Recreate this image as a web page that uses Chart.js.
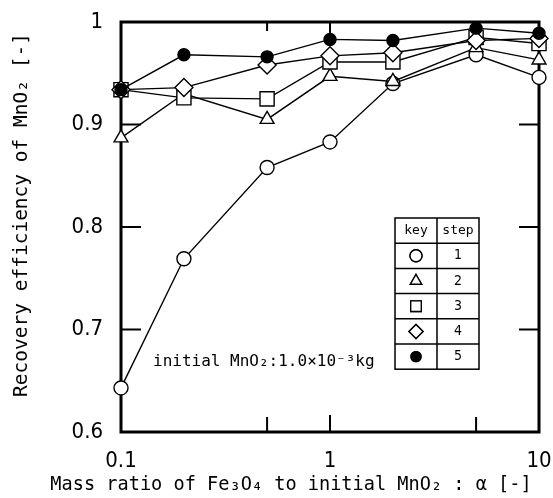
<!DOCTYPE html>
<html>
<head>
  <title>Recovery efficiency</title>
<script src="https://cdn.jsdelivr.net/npm/chart.js"></script>
<style>
  html, body { margin: 0; padding: 0; background: #fff; }
  #wrap { width: 553px; height: 498px; }
</style>
</head>
<body>
<div id="wrap">
  <canvas id="myChart" width="553" height="498"></canvas>
</div>
<script>
// mass ratio alpha
const alphas = [0.1, 0.2, 0.5, 1, 2, 5, 10];

// recovery efficiency per step
const step1 = [0.643, 0.769, 0.858, 0.883, 0.940, 0.968, 0.946];
const step2 = [0.887, 0.930, 0.905, 0.947, 0.942, 0.975, 0.963];
const step3 = [0.934, 0.926, 0.925, 0.961, 0.961, 0.985, 0.979];
const step4 = [0.934, 0.936, 0.958, 0.967, 0.970, 0.982, 0.984];
const step5 = [0.934, 0.968, 0.966, 0.983, 0.982, 0.994, 0.989];

const xTickLabels = [0.1, 1, 10];
const yTickLabels = [0.6, 0.7, 0.8, 0.9, 1];

const stepNames = ['1', '2', '3', '4', '5'];

const FONT_NUM = '"DejaVu Sans Condensed", "DejaVu Sans", sans-serif';
const FONT_MONO = '"DejaVu Sans Mono", monospace';

function pts(ys) {
  return alphas.map((a, i) => ({x: a, y: ys[i]}));
}

const styles = [
  {style: 'circle',   r: 7,  fill: '#fff'},
  {style: 'triangle', r: 8,  fill: '#fff'},
  {style: 'rect',     r: 10, fill: '#fff'},
  {style: 'rectRot',  r: 9,  fill: '#fff'},
  {style: 'circle',   r: 6,  fill: '#000'}
];

const series = [step1, step2, step3, step4, step5];

const datasets = series.map((s, i) => ({
  label: 'step ' + stepNames[i],
  data: pts(s),
  borderColor: '#000',
  borderWidth: 1.4,
  pointStyle: styles[i].style,
  pointRadius: styles[i].r,
  pointBackgroundColor: styles[i].fill,
  pointBorderColor: '#000',
  pointBorderWidth: 1.4,
  tension: 0,
  clip: false,
  order: 5 - i
}));

// frame + inward ticks
const framePlugin = {
  id: 'frame',
  beforeDatasetsDraw(chart) {
    const {ctx, chartArea: a, scales} = chart;
    const x = scales.x, y = scales.y;
    ctx.save();
    ctx.strokeStyle = '#000';
    ctx.lineWidth = 2;
    [0.7, 0.8, 0.9].forEach(v => {
      const py = y.getPixelForValue(v);
      ctx.beginPath();
      ctx.moveTo(a.left, py); ctx.lineTo(a.left + 20, py);
      ctx.moveTo(a.right, py); ctx.lineTo(a.right - 20, py);
      ctx.stroke();
    });
    [[0.5, 15], [1, 17], [5, 15]].forEach(([v, len]) => {
      const px = x.getPixelForValue(v);
      ctx.beginPath();
      ctx.moveTo(px, a.bottom); ctx.lineTo(px, a.bottom - len);
      ctx.stroke();
    });
    [[0.5, 9], [1, 14]].forEach(([v, len]) => {
      const px = x.getPixelForValue(v);
      ctx.beginPath();
      ctx.moveTo(px, a.top); ctx.lineTo(px, a.top + len);
      ctx.stroke();
    });
    ctx.lineWidth = 3;
    ctx.strokeRect(a.left, a.top, a.right - a.left, a.bottom - a.top);
    ctx.restore();
  }
};

function drawMarker(ctx, style, x, y, r, fill) {
  Chart.helpers.drawPoint(ctx, {pointStyle: style, radius: r, borderWidth: 1.4}, x, y);
  ctx.fillStyle = fill;
  ctx.fill();
  ctx.stroke();
}

// key table, annotation and axis titles
const textPlugin = {
  id: 'texts',
  afterDraw(chart) {
    const {ctx} = chart;
    ctx.save();
    ctx.fillStyle = '#000';
    ctx.strokeStyle = '#000';

    // key table
    const left = 395, mid = 437, right = 479, top = 218, rowH = 25.2;
    const bottom = top + rowH * 6;
    ctx.fillStyle = '#fff';
    ctx.fillRect(left, top, right - left, bottom - top);
    ctx.lineWidth = 1.5;
    ctx.strokeRect(left, top, right - left, bottom - top);
    ctx.beginPath();
    ctx.moveTo(mid, top); ctx.lineTo(mid, bottom);
    for (let i = 1; i < 6; i++) {
      ctx.moveTo(left, top + rowH * i); ctx.lineTo(right, top + rowH * i);
    }
    ctx.stroke();
    ctx.fillStyle = '#000';
    ctx.font = '13px ' + FONT_MONO;
    ctx.textAlign = 'center';
    ctx.textBaseline = 'middle';
    ctx.fillText('key', (left + mid) / 2, top + rowH / 2);
    ctx.fillText('step', (mid + right) / 2, top + rowH / 2);
    const keyR = [6, 6.5, 7.5, 7, 5];
    stepNames.forEach((n, i) => {
      const cy = top + rowH * (i + 1.5);
      ctx.lineWidth = 1.4;
      drawMarker(ctx, styles[i].style, (left + mid) / 2, cy, keyR[i], styles[i].fill);
      ctx.fillStyle = '#000';
      ctx.font = '14px ' + FONT_NUM;
      ctx.fillText(n, (mid + right) / 2, cy);
    });

    // annotation
    ctx.textAlign = 'left';
    ctx.font = '16px ' + FONT_MONO;
    ctx.fillText('initial MnO\u2082:1.0\u00d710\u207b\u00b3kg', 153, 362);

    // x title
    ctx.textAlign = 'center';
    ctx.font = '18.6px ' + FONT_MONO;
    ctx.fillText('Mass ratio of Fe\u2083O\u2084 to initial MnO\u2082 : \u03b1 [-]', 291, 485);

    // y title
    ctx.font = '19.5px ' + FONT_MONO;
    ctx.translate(22, 215);
    ctx.rotate(-Math.PI / 2);
    ctx.fillText('Recovery efficiency of MnO\u2082 [-]', 0, 0);
    ctx.restore();
  }
};

const config = {
  type: 'line',
  data: {datasets: datasets},
  options: {
    responsive: false,
    animation: false,
    events: [],
    layout: {padding: {left: 0, right: 14, top: 22, bottom: 0}},
    plugins: {
      legend: {display: false},
      tooltip: {enabled: false}
    },
    scales: {
      x: {
        type: 'logarithmic',
        min: 0.1,
        max: 10,
        grid: {display: false, drawTicks: false},
        border: {display: false},
        afterFit(scale) {
          scale.height = 66;
          scale.paddingLeft = 0;
          scale.paddingRight = 0;
        },
        afterBuildTicks(scale) {
          scale.ticks = xTickLabels.map(v => ({value: v}));
        },
        ticks: {
          autoSkip: false,
          maxRotation: 0,
          padding: 16,
          color: '#000',
          font: {family: FONT_NUM, size: 22},
          callback: v => String(v)
        }
      },
      y: {
        type: 'linear',
        min: 0.6,
        max: 1.0,
        grid: {display: false, drawTicks: false},
        border: {display: false},
        afterFit(scale) {
          scale.width = 121;
          scale.paddingTop = 0;
          scale.paddingBottom = 0;
        },
        afterBuildTicks(scale) {
          scale.ticks = yTickLabels.map(v => ({value: v}));
        },
        ticks: {
          padding: 18,
          color: '#000',
          font: {family: FONT_NUM, size: 22},
          callback: v => (v === 1 ? '1' : v.toFixed(1))
        }
      }
    }
  },
  plugins: [framePlugin, textPlugin]
};

const myChart = new Chart(document.getElementById('myChart'), config);
</script>
</body>
</html>
